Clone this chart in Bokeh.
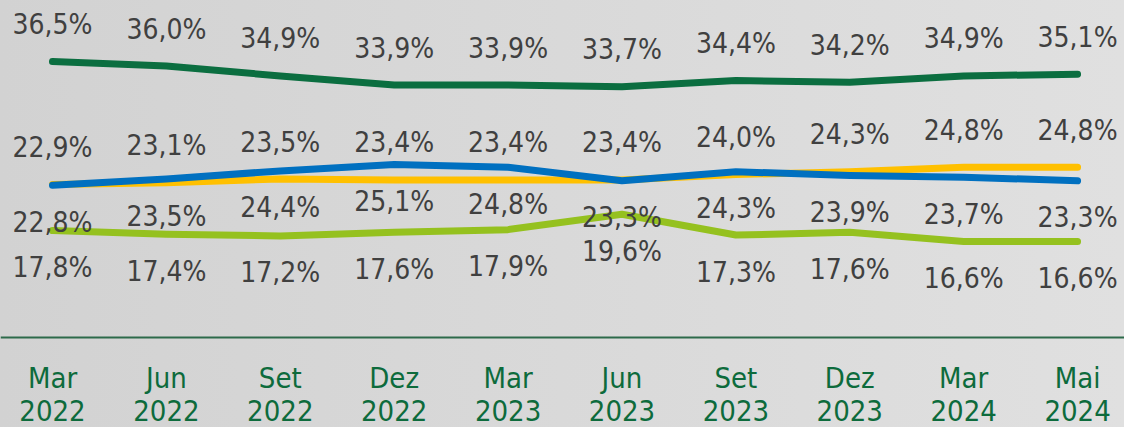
from bokeh.plotting import figure
from bokeh.models import ColumnDataSource, LabelSet, Range1d, Span
from bokeh.core.properties import value
from bokeh.embed import file_html
from bokeh.resources import INLINE

months = ["Mar", "Jun", "Set", "Dez", "Mar", "Jun", "Set", "Dez", "Mar", "Mai"]
years = ["2022", "2022", "2022", "2022", "2023", "2023", "2023", "2023", "2024", "2024"]

s_dark = [36.5, 36.0, 34.9, 33.9, 33.9, 33.7, 34.4, 34.2, 34.9, 35.1]
s_yellow = [22.9, 23.1, 23.5, 23.4, 23.4, 23.4, 24.0, 24.3, 24.8, 24.8]
s_blue = [22.8, 23.5, 24.4, 25.1, 24.8, 23.3, 24.3, 23.9, 23.7, 23.3]
s_light = [17.8, 17.4, 17.2, 17.6, 17.9, 19.6, 17.3, 17.6, 16.6, 16.6]

FONT = "DejaVu Sans Condensed"
AXIS_Y = 5.97  # level where the category axis line sits
xs = list(range(len(months)))

p = figure(width=1124, height=427, output_backend="svg", toolbar_location=None,
           x_range=Range1d(-0.4565, 9.412), y_range=Range1d(-3.99, 43.25),
           min_border=0, background_fill_color=None, border_fill_color=None,
           outline_line_color=None)
p.xaxis.visible = False
p.yaxis.visible = False
p.xgrid.visible = False
p.ygrid.visible = False

p.add_layout(Span(location=AXIS_Y, dimension="width", line_color="#2d6a4a", line_width=2))

series = [
    (s_dark, "#0b6e40", 37),
    (s_yellow, "#ffc000", 37),
    (s_blue, "#0070c0", -37),
    (s_light, "#95c11f", -37),
]

for vals, color, off in series:
    p.line(xs, vals, line_color=color, line_width=7, line_cap="round", line_join="round")

for vals, color, off in series:
    src = ColumnDataSource(dict(x=xs, y=vals, t=[f"{v:.1f}%".replace(".", ",") for v in vals]))
    p.add_layout(LabelSet(x="x", y="y", text="t", source=src, y_offset=off,
                          text_align="center", text_baseline="middle",
                          text_font=value(FONT), text_font_size="28px", text_color="#404040"))

# category labels beneath the axis line
for texts, off in [(months, -41), (years, -73)]:
    src = ColumnDataSource(dict(x=xs, y=[AXIS_Y] * len(xs), t=texts))
    p.add_layout(LabelSet(x="x", y="y", text="t", source=src, y_offset=off,
                          text_align="center", text_baseline="middle",
                          text_font=value(FONT), text_font_size="29px", text_color="#0d6b3c"))

html = file_html(p, INLINE)
html = html.replace("</head>", "<style>html,body{background:linear-gradient(to right,#d2d2d2,#e0e0e0);}</style></head>", 1)
open("out.html", "w").write(html)
